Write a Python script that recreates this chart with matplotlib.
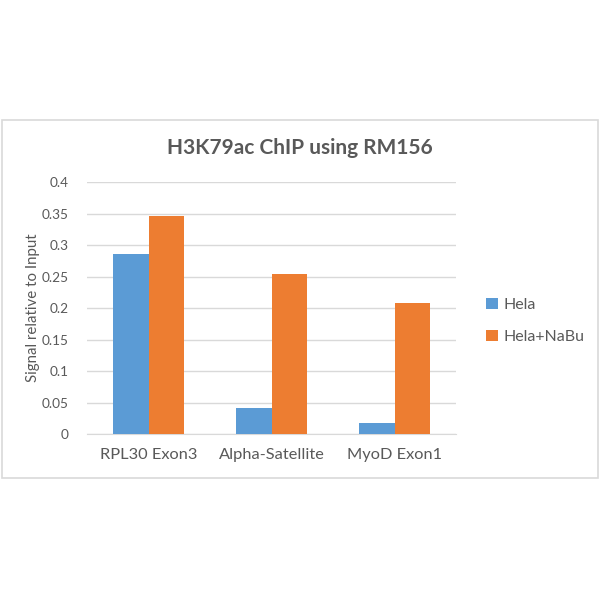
import matplotlib.pyplot as plt
from matplotlib.patches import Rectangle
import numpy as np

categories = ["RPL30 Exon3", "Alpha-Satellite", "MyoD Exon1"]
hela = [0.286, 0.042, 0.017]
hela_nabu = [0.346, 0.254, 0.208]
series_names = ["Hela", "Hela+NaBu"]
yticks = [0, 0.05, 0.1, 0.15, 0.2, 0.25, 0.3, 0.35, 0.4]
ytick_labels = ["0", "0.05", "0.1", "0.15", "0.2", "0.25", "0.3", "0.35", "0.4"]

plt.rcParams["font.family"] = ["Lato", "DejaVu Sans"]
grey = "#595959"

fig = plt.figure(figsize=(6, 6), dpi=100)
W, H = 600, 600

# outer chart frame
fig.patches.append(Rectangle((2 / W, 1 - 478 / H), 596 / W, 358 / H,
                             transform=fig.transFigure, fill=False,
                             edgecolor="#d9d9d9", linewidth=1.2))

ax = fig.add_axes([87 / W, 1 - 434 / H, 369 / W, 252 / H])
x = np.arange(len(categories))
w = 0.287
ax.bar(x - w / 2, hela, w, color="#5b9bd5", label=series_names[0], zorder=3)
ax.bar(x + w / 2, hela_nabu, w, color="#ed7d31", label=series_names[1], zorder=3)

ax.set_xlim(-0.5, 2.5)
ax.set_ylim(0, 0.4)
ax.set_yticks(yticks)
ax.set_yticklabels(ytick_labels)
ax.set_xticks(x)
ax.set_xticklabels(categories, fontsize=11.8)
ax.tick_params(axis="both", length=0, colors=grey)
ax.tick_params(axis="y", labelsize=9.8, pad=13)
ax.tick_params(axis="x", pad=10)
for lab in ax.get_xticklabels():
    lab.set_color(grey)
ax.grid(axis="y", color="#d9d9d9", linewidth=1, zorder=0)
for s in ["top", "right", "left"]:
    ax.spines[s].set_visible(False)
ax.spines["bottom"].set_color("#d9d9d9")
ax.set_ylabel("Signal relative to Input", fontsize=10.8, color=grey)
ax.yaxis.set_label_coords(-0.128, 0.5)

fig.text(0.5, 1 - 148 / H, "H3K79ac ChIP using RM156", ha="center", va="center",
         fontsize=15, fontweight="bold", color=grey)

leg = ax.legend(loc="center left", bbox_to_anchor=(472 / W, 1 - 321 / H),
                bbox_transform=fig.transFigure, frameon=False, fontsize=11.5,
                handlelength=0.7, handleheight=0.7, handletextpad=0.4,
                labelspacing=1.1)
for t in leg.get_texts():
    t.set_color(grey)

fig.savefig("out.png", dpi=100, facecolor="white")
plt.close(fig)
